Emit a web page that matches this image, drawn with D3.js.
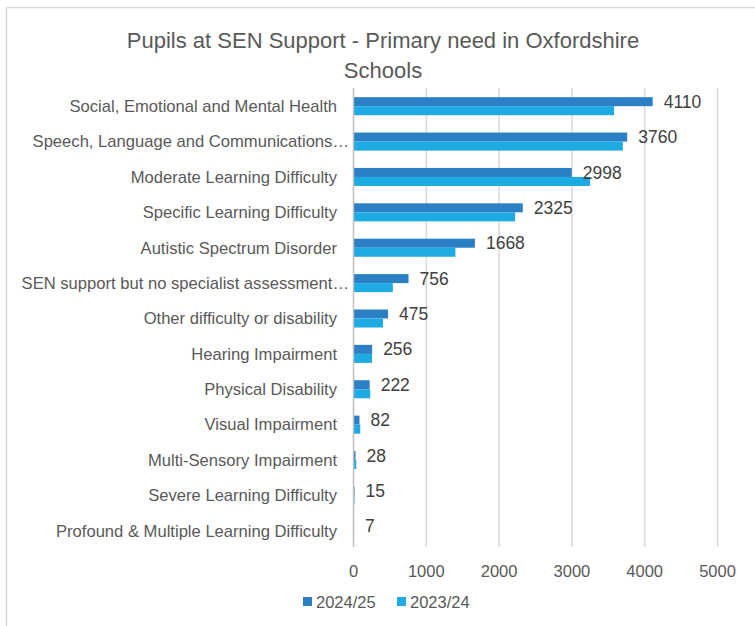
<!DOCTYPE html>
<html><head><meta charset="utf-8">
<script src="https://cdn.jsdelivr.net/npm/d3@7"></script>
<style>body{margin:0;background:#fff}svg{display:block}</style>
</head><body>
<svg id="c" width="755" height="626"></svg>
<script>
const categories = [
  "Social, Emotional and Mental Health",
  "Speech, Language and Communications…",
  "Moderate Learning Difficulty",
  "Specific Learning Difficulty",
  "Autistic Spectrum Disorder",
  "SEN support but no specialist assessment…",
  "Other difficulty or disability",
  "Hearing Impairment",
  "Physical Disability",
  "Visual Impairment",
  "Multi-Sensory Impairment",
  "Severe Learning Difficulty",
  "Profound & Multiple Learning Difficulty"
];
const series = ["2024/25", "2023/24"];
const values2425 = [4110, 3760, 2998, 2325, 1668, 756, 475, 256, 222, 82, 28, 15, 7];
const values2324 = [3580, 3700, 3250, 2220, 1400, 540, 405, 254, 230, 93, 38, 14, 6];
const xTicks = [0, 1000, 2000, 3000, 4000, 5000];
const titleLines = ["Pupils at SEN Support - Primary need in Oxfordshire", "Schools"];

const colors = {"2024/25": "#2b7fc5", "2023/24": "#1eabe3"};
const font = "'Liberation Sans', Arial, sans-serif";
const svg = d3.select("#c");

svg.append("rect").attr("x", 6.5).attr("y", 7.5).attr("width", 800).attr("height", 700)
  .attr("fill", "#fff").attr("stroke", "#d9d9d9").attr("stroke-width", 1.5);

const x = d3.scaleLinear().domain([0, 5000]).range([353.5, 717.5]);
const y = d3.scaleBand().domain(categories).range([88.5, 548.5]).paddingInner(0.49).paddingOuter(0.245);
const ys = d3.scaleBand().domain(series).range([0, y.bandwidth()]);

// gridlines
svg.append("g").selectAll("line").data(xTicks.slice(1)).join("line")
  .attr("x1", d => x(d)).attr("x2", d => x(d)).attr("y1", 88).attr("y2", 547)
  .attr("stroke", "#d9d9d9").attr("stroke-width", 1.5);

// bars
const rows = categories.map((c, i) => ({c, v: {"2024/25": values2425[i], "2023/24": values2324[i]}}));
const g = svg.append("g");
series.forEach(s => {
  g.selectAll("rect.s" + s.replace("/", "")).data(rows).join("rect")
    .attr("x", x(0)).attr("y", d => y(d.c) + ys(s))
    .attr("width", d => x(d.v[s]) - x(0)).attr("height", ys.bandwidth())
    .attr("fill", colors[s]);
});

// axis zero line
svg.append("line").attr("x1", x(0)).attr("x2", x(0)).attr("y1", 88).attr("y2", 547)
  .attr("stroke", "#bfbfbf").attr("stroke-width", 1.5);

// data labels
svg.append("g").selectAll("text").data(rows).join("text")
  .attr("x", d => x(d.v["2024/25"]) + 11)
  .attr("y", d => y(d.c) + ys("2024/25") + ys.bandwidth() / 2)
  .attr("dy", "0.35em")
  .attr("font-family", font).attr("font-size", 17.5).attr("fill", "#404040")
  .text(d => d.v["2024/25"]);

// category labels
svg.append("g").selectAll("text").data(categories).join("text")
  .attr("x", d => d.endsWith("…") ? 349 : 337)
  .attr("y", d => y(d) + y.bandwidth() / 2)
  .attr("dy", "0.35em").attr("text-anchor", "end")
  .attr("font-family", font).attr("font-size", 16.6).attr("fill", "#595959")
  .text(d => d);

// x tick labels
svg.append("g").selectAll("text").data(xTicks).join("text")
  .attr("x", d => x(d)).attr("y", 571).attr("dy", "0.35em").attr("text-anchor", "middle")
  .attr("font-family", font).attr("font-size", 16.5).attr("fill", "#595959")
  .text(d => d);

// title
svg.append("g").selectAll("text").data(titleLines).join("text")
  .attr("x", 383).attr("y", (d, i) => 40 + i * 30).attr("dy", "0.35em").attr("text-anchor", "middle")
  .attr("font-family", font).attr("font-size", 22).attr("fill", "#595959")
  .text(d => d);

// legend
const leg = svg.append("g");
const legX = [303, 397];
series.forEach((s, i) => {
  leg.append("rect").attr("x", legX[i]).attr("y", 597).attr("width", 9).attr("height", 9).attr("fill", colors[s]);
  leg.append("text").attr("x", legX[i] + 13).attr("y", 602).attr("dy", "0.35em")
    .attr("font-family", font).attr("font-size", 16.5).attr("fill", "#595959").text(s);
});
</script>
</body></html>
